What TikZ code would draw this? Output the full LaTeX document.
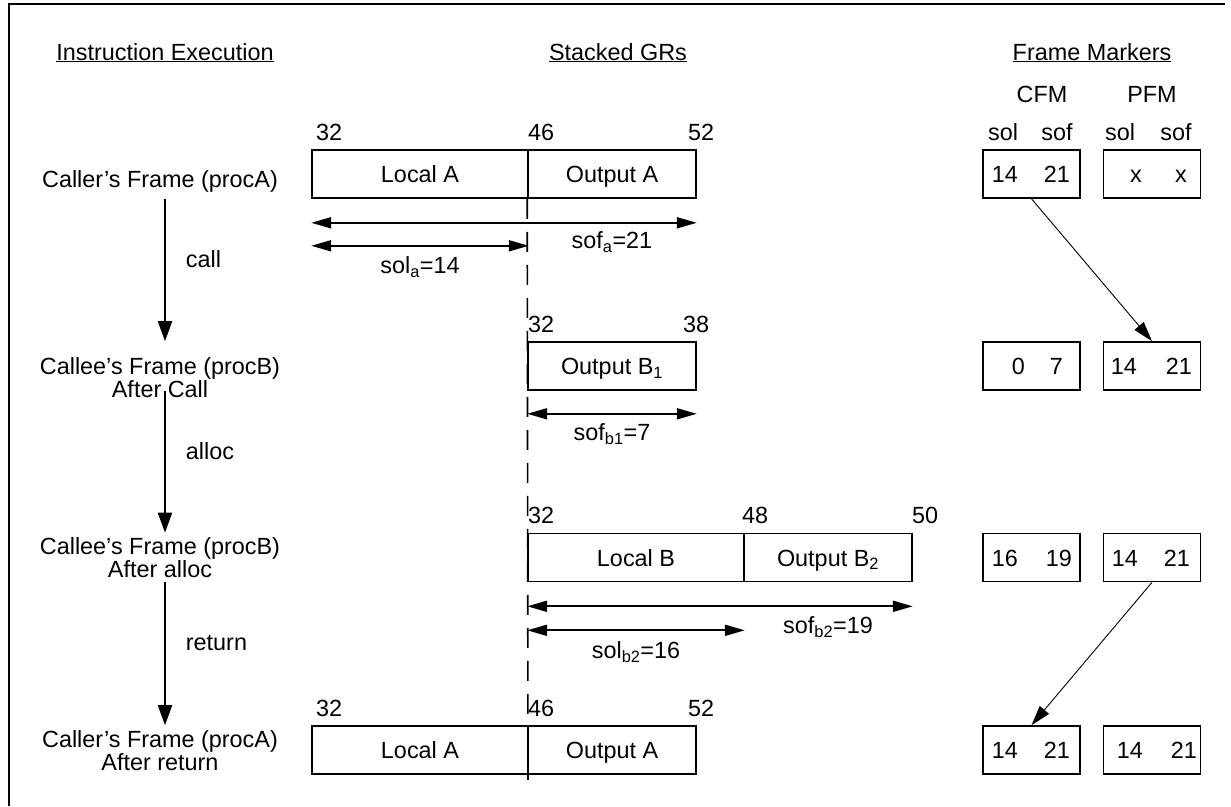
\documentclass[tikz,border=0pt]{standalone}
\usepackage{fontspec}
\setmainfont{Liberation Sans}
\usetikzlibrary{arrows.meta}

\tikzset{
  txt/.style={font=\fontsize{23.4}{23}\selectfont, inner sep=0pt},
  grbox/.style={draw, line width=1.6pt, minimum height=48pt, inner sep=0pt,
    text height=17pt, text depth=0pt, font=\fontsize{23.4}{23}\selectfont},
  fmbox/.style={draw, line width=1.6pt, minimum width=97pt, minimum height=48pt, inner sep=0pt},
  flow/.style={line width=1.8pt, -{Triangle[length=20pt,width=14pt]}},
  span/.style={line width=1.8pt, {Triangle[length=20pt,width=11pt]}-{Triangle[length=20pt,width=11pt]}},
  link/.style={line width=0.9pt, -{Triangle[length=20pt,width=12pt]}},
  steplabel/.style={txt, midway, anchor=west, xshift=20pt, yshift=11pt},
}

\begin{document}
\begin{tikzpicture}[x=1pt, y=-1pt]
	\useasboundingbox (0,0) rectangle (1231,806);
	\draw[line width=1.5pt] (1225,4) -- (9,4) -- (9,806);

	% headings
	\node[txt, anchor=base] (hexec) at (165,60) {\underline{Instruction Execution}};
	\node[txt, anchor=base] (hgrs) at (618,60) {\underline{Stacked GRs}};
	\node[txt, anchor=base] (hfm) at (1092,60) {\underline{Frame Markers}};
	\node[txt, anchor=base] (hcfm) at (1042,102) {CFM};
	\node[txt, anchor=base] (hpfm) at (1152,102) {PFM};
	\foreach \n/\x/\val in {csol/1003/sol, csof/1057/sof, psol/1120/sol, psof/1176/sof}{
			\node[txt, anchor=base] (\n) at (\x,140) {\val};
		}

	% stacked GRs
	\node[grbox, minimum width=216pt] (locA) at (420,174) {Local A};
	\node[grbox, minimum width=168pt] (outA) at (612,174) {Output A};
	\node[grbox, minimum width=168pt] (outB1) at (612,366) {Output B\textsubscript{1}};
	\node[grbox, minimum width=216pt] (locB) at (636,557.5) {Local B};
	\node[grbox, minimum width=168pt] (outB2) at (828,557.5) {Output B\textsubscript{2}};
	\node[grbox, minimum width=216pt] (locA2) at (420,750) {Local A};
	\node[grbox, minimum width=168pt] (outA2) at (612,750) {Output A};

	\foreach \n/\x/\y/\val in {a32/316/140/32, a46/528/140/46, a52/688/140/52,
			b32/528/332/32, b38/683/332/38,
			c32/528/523/32, c48/742/523/48, c50/912/523/50,
			d32/316/716/32, d46/528/716/46, d52/688/716/52}{
			\node[txt, anchor=base west] (n\n) at (\x,\y) {\val};
		}

	\coordinate (divend) at (528,790);
	\draw[line width=1.6pt, dash pattern=on 20pt off 13pt] (outA.south west) -- (divend);

	\draw[span] ([yshift=-24pt]locA.south west) -- ([yshift=-24pt]outA.south east);
	\draw[span] ([yshift=-47pt]locA.south west) -- ([yshift=-47pt]locA.south east);
	\node[txt, anchor=base] (sofa) at ([yshift=-50pt]outA.south) {sof\textsubscript{a}=21};
	\node[txt, anchor=base] (sola) at ([yshift=-75pt]locA.south) {sol\textsubscript{a}=14};

	\draw[span] ([yshift=-23pt]outB1.south west) -- ([yshift=-23pt]outB1.south east);
	\node[txt, anchor=base] (sofb1) at ([yshift=-50pt]outB1.south) {sof\textsubscript{b1}=7};

	\draw[span] ([yshift=-24pt]locB.south west) -- ([yshift=-24pt]outB2.south east);
	\draw[span] ([yshift=-48pt]locB.south west) -- ([yshift=-48pt]locB.south east);
	\node[txt, anchor=base] (sofb2) at ([yshift=-51pt]outB2.south) {sof\textsubscript{b2}=19};
	\node[txt, anchor=base] (solb2) at ([yshift=-76pt]locB.south) {sol\textsubscript{b2}=16};

	% instruction execution
	\coordinate (lane) at (165,0);
	\node[txt, anchor=base] (frame1) at (160,187) {Caller’s Frame (procA)};
	\node[txt, anchor=base, align=center] (frame2) at (160,397) {Callee’s Frame (procB)\\After Call};
	\node[txt, anchor=base, align=center] (frame3) at (160,577) {Callee’s Frame (procB)\\After alloc};
	\node[txt, anchor=base, align=center] (frame4) at (160,770) {Caller’s Frame (procA)\\After return};

	\draw[flow] (lane |- locA.south) -- (lane |- outB1.north) node[steplabel] (call) {call};
	\draw[flow] (lane |- outB1.south) -- (lane |- locB.north) node[steplabel] (alloc) {alloc};
	\draw[flow] (lane |- locB.south) -- (lane |- locA2.north) node[steplabel] (ret) {return};

	% frame markers
	\foreach \r/\y in {1/174, 2/366, 3/557.5, 4/750}{
			\node[fmbox] (cfm\r) at (1031.5,\y) {};
			\node[fmbox] (pfm\r) at (1152,\y) {};
		}
	\foreach \n/\x/\y/\val in {c1l/1018/182.4/14, c1f/1070/182.4/21, p1l/1142/182.4/x, p1f/1187/182.4/x,
			c2l/1025/374.4/0, c2f/1063/374.4/7, p2l/1137/374.4/14, p2f/1192/374.4/21,
			c3l/1018/566/16, c3f/1072/566/19, p3l/1138/566/14, p3f/1190/566/21,
			c4l/1018/758.4/14, c4f/1070/758.4/21, p4l/1143/758.4/14, p4f/1197/758.4/21}{
			\node[txt, anchor=base east] (v\n) at (\x,\y) {\val};
		}

	\draw[link] (cfm1.south) -- (pfm2.north);
	\draw[link] (pfm3.south) -- (cfm4.north);
\end{tikzpicture}
\end{document}
